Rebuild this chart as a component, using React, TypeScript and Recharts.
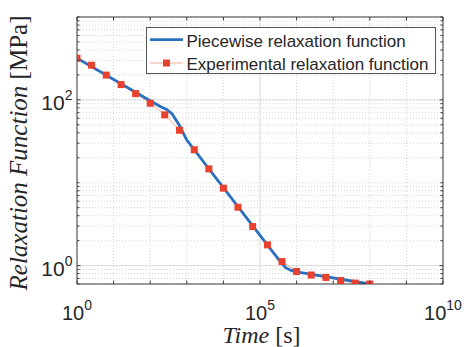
import React from 'react';
import { LineChart, Line, XAxis, YAxis, CartesianGrid, ReferenceLine, Legend } from 'recharts';

// Experimental relaxation function (time in s, modulus in MPa)
const expTime = [1, 2.5, 6.3, 16, 40, 100, 250, 630, 1600, 4000, 1e4, 2.5e4, 6.3e4, 1.6e5, 4e5, 1e6, 2.5e6, 6.3e6, 1.6e7, 4e7, 1e8];
const expModulus = [318, 262, 199, 153, 119, 91, 66, 43, 25, 14.7, 8.6, 5.07, 2.96, 1.78, 1.12, 0.85, 0.77, 0.72, 0.66, 0.615, 0.6];

// Piecewise relaxation function (knots)
const fitTime = [1, 100, 200, 282, 398, 631, 1000, 3.16e5, 3.98e5, 5.01e5, 7.08e5, 1e6, 1e8];
const fitModulus = [318, 97.7, 82.2, 76.7, 67.6, 49, 32.7, 1.195, 1.06, 0.944, 0.875, 0.841, 0.6];

const xTicks = [1, 10, 100, 1e3, 1e4, 1e5, 1e6, 1e7, 1e8, 1e9, 1e10];
const xTickLabels: Record<number, string> = { 1: '0', 100000: '5', 10000000000: '10' };
const yTicks = [0.6, 0.7, 0.8, 0.9, 1, 2, 3, 4, 5, 6, 7, 8, 9, 10, 20, 30, 40, 50, 60, 70, 80, 90, 100, 200, 300, 400, 500, 600, 700, 800, 900, 1000];
const yTickLabels: Record<number, string> = { 1: '0', 100: '2' };

const legendNames = ['Piecewise relaxation function', 'Experimental relaxation function'];

const expData = expTime.map((t, i) => ({ t, g: expModulus[i] }));
const fitData = fitTime.map((t, i) => ({ t, g: fitModulus[i] }));

const W = 467;
const H = 347;
const LEFT = 77;
const RIGHT = 443;
const TOP = 17;
const BOTTOM = 284;
const AXIS = '#3a3a3a';
const TEXT = '#262626';
const BLUE = '#2a70bf';
const RED = '#e8412d';
const SALMON = '#f3ad94';
const SANS = '"Liberation Sans", Arial, Helvetica, sans-serif';
const SERIF = '"Liberation Serif", "Times New Roman", serif';

const XTick = (props: any) => {
  const { x, payload } = props;
  const exp = xTickLabels[payload.value];
  return (
    <g>
      <line x1={x} x2={x} y1={BOTTOM} y2={BOTTOM - 3.5} stroke={AXIS} strokeWidth={1} />
      <line x1={x} x2={x} y1={TOP} y2={TOP + 3.5} stroke={AXIS} strokeWidth={1} />
      {exp !== undefined && (
        <text x={x} y={319.5} textAnchor="middle" fontFamily={SANS} fontSize={20} fill={TEXT}>
          <tspan>10</tspan>
          <tspan dy={-10} fontSize={14}>{exp}</tspan>
        </text>
      )}
    </g>
  );
};

const YTick = (props: any) => {
  const { y, payload } = props;
  const exp = yTickLabels[payload.value];
  const major = exp !== undefined;
  const len = major ? 3.5 : 2.5;
  return (
    <g>
      <line x1={LEFT} x2={LEFT + len} y1={y} y2={y} stroke={AXIS} strokeWidth={1} />
      <line x1={RIGHT} x2={RIGHT - len} y1={y} y2={y} stroke={AXIS} strokeWidth={1} />
      {major && (
        <text x={72.5} y={y + 10.5} textAnchor="end" fontFamily={SANS} fontSize={21} fill={TEXT}>
          <tspan>10</tspan>
          <tspan dy={-10} fontSize={14}>{exp}</tspan>
        </text>
      )}
    </g>
  );
};

const SquareDot = (props: any) => {
  const { cx, cy, index } = props;
  if (cx == null || cy == null) return <g key={`d${index}`} />;
  return <rect key={`d${index}`} x={cx - 3.5} y={cy - 3.5} width={7} height={7} fill={RED} />;
};

const LegendBox = () => (
  <svg width={291} height={47} style={{ display: 'block' }}>
    <rect x={0.5} y={0.5} width={289} height={46} fill="#ffffff" stroke="#555555" strokeWidth={1} />
    <line x1={4} x2={37} y1={12.6} y2={12.6} stroke={BLUE} strokeWidth={2.8} />
    <text x={40.5} y={19.8} fontFamily={SANS} fontSize={17} fill={TEXT}>{legendNames[0]}</text>
    <line x1={4} x2={37} y1={36} y2={36} stroke={SALMON} strokeWidth={1} />
    <rect x={17} y={32.5} width={7} height={7} fill={RED} />
    <text x={40.5} y={43} fontFamily={SANS} fontSize={17} fill={TEXT}>{legendNames[1]}</text>
  </svg>
);

const XLabel = () => (
  <text x={261.5} y={343} textAnchor="middle" fontFamily={SERIF} fontSize={24} fill={TEXT}>
    <tspan fontStyle="italic">Time</tspan>
    <tspan> [s]</tspan>
  </text>
);

const YLabel = () => (
  <text x={27} y={153} transform="rotate(-90, 27, 153)" textAnchor="middle" fontFamily={SERIF} fontSize={25} fill={TEXT}>
    <tspan fontStyle="italic">Relaxation Function</tspan>
    <tspan> [MPa]</tspan>
  </text>
);

export default function App() {
  return (
    <div style={{ position: 'absolute', left: 0, top: 0, width: W, height: H, background: '#ffffff' }}>
      <LineChart width={W} height={H} margin={{ top: TOP, right: W - RIGHT, left: LEFT - 60, bottom: H - BOTTOM - 50 }}>
        <CartesianGrid stroke="#d6d6d6" strokeDasharray="1 2" strokeWidth={1} />
        <ReferenceLine x={1e5} stroke="#dedede" strokeWidth={1} />
        <ReferenceLine y={1} stroke="#dedede" strokeWidth={1} />
        <ReferenceLine y={100} stroke="#dedede" strokeWidth={1} />
        <ReferenceLine y={1000} stroke={AXIS} strokeWidth={1} />
        <ReferenceLine x={1e10} stroke={AXIS} strokeWidth={1} />
        <XAxis
          dataKey="t"
          type="number"
          scale="log"
          domain={[1, 1e10]}
          allowDataOverflow
          ticks={xTicks}
          interval={0}
          height={50}
          tickLine={false}
          axisLine={{ stroke: AXIS, strokeWidth: 1 }}
          tick={<XTick />}
          label={<XLabel />}
        />
        <YAxis
          type="number"
          scale="log"
          domain={[0.6, 1000]}
          allowDataOverflow
          ticks={yTicks}
          interval={0}
          width={60}
          tickLine={false}
          axisLine={{ stroke: AXIS, strokeWidth: 1 }}
          tick={<YTick />}
          label={<YLabel />}
        />
        <Line data={expData} dataKey="g" stroke={SALMON} strokeWidth={1} dot={false} isAnimationActive={false} legendType="none" />
        <Line data={fitData} dataKey="g" stroke={BLUE} strokeWidth={2.8} dot={false} isAnimationActive={false} name={legendNames[0]} />
        <Line data={expData} dataKey="g" stroke="none" dot={<SquareDot />} activeDot={false} isAnimationActive={false} name={legendNames[1]} />
        <Legend
          layout="vertical"
          align="center"
          verticalAlign="middle"
          wrapperStyle={{ position: 'absolute', left: 146, top: 27, width: 291, height: 47 }}
          content={() => <LegendBox />}
        />
      </LineChart>
    </div>
  );
}
